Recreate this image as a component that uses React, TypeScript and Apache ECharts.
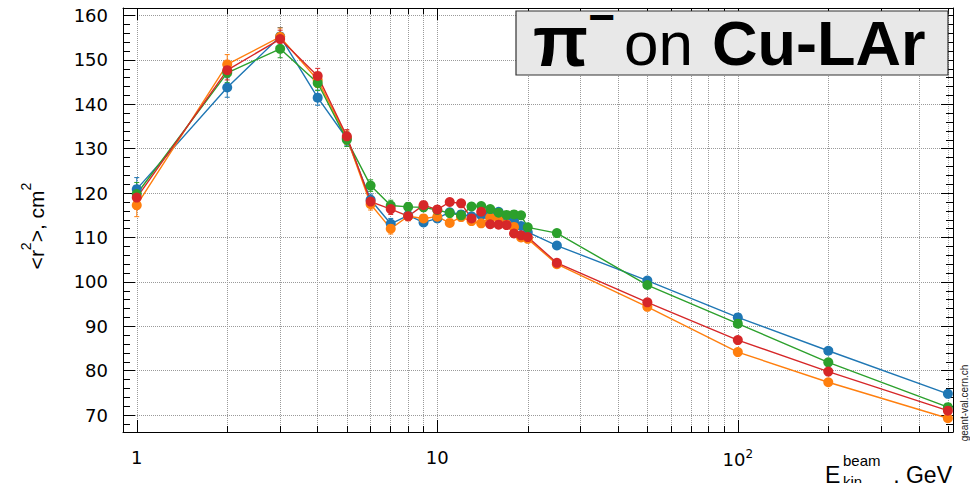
import React, { useEffect, useRef } from 'react';
import * as echarts from 'echarts';

// Beam kinetic energies, GeV
const energies = [1, 2, 3, 4, 5, 6, 7, 8, 9, 10, 11, 12, 13, 14, 15, 16, 17, 18, 19, 20, 25, 50, 100, 200, 500];

// <r^2>, cm^2 for each of the four model curves
const blueR2 = [120.9, 143.8, 155.3, 141.5, 132.3, 118.5, 113.1, 115.0, 113.4, 114.3, 115.7, 115.2, 114.8, 115.0, 115.5, 115.8, 114.6, 113.8, 112.6, 111.2, 108.2, 100.3, 92.0, 84.5, 74.8];
const orangeR2 = [117.3, 149.0, 155.2, 145.5, 132.5, 117.5, 112.0, 114.8, 114.3, 114.7, 113.3, 114.6, 113.7, 113.2, 114.5, 114.3, 113.0, 112.4, 110.0, 109.7, 104.0, 94.4, 84.2, 77.4, 69.3];
const greenR2 = [119.8, 147.1, 152.5, 144.8, 132.0, 121.7, 117.2, 116.9, 116.8, 116.2, 115.5, 115.0, 117.0, 117.1, 116.4, 115.6, 115.1, 115.2, 115.0, 112.3, 111.0, 99.3, 90.6, 81.9, 71.8];
const redR2 = [119.0, 147.7, 154.7, 146.4, 132.8, 118.1, 116.4, 114.8, 117.3, 116.3, 118.0, 117.7, 114.3, 115.8, 113.0, 112.9, 112.8, 110.9, 110.5, 110.1, 104.3, 95.4, 86.9, 79.8, 71.0];

// statistical errors (same for all curves, read roughly)
const errBar = [2.6, 2.2, 2.0, 1.7, 1.5, 1.3, 1.2, 1.0, 0.9, 0.9, 0.8, 0.8, 0.8, 0.8, 0.8, 0.7, 0.7, 0.7, 0.7, 0.7, 0.6, 0.5, 0.4, 0.3, 0.3];

// axis ticks
const xAllTicks = [1, 2, 3, 4, 5, 6, 7, 8, 9, 10, 20, 30, 40, 50, 60, 70, 80, 90, 100, 200, 300, 400, 500];
const xMajorTicks = [1, 10, 100];
const xLabelValues = [1, 10, 100];

const curves = [
  { name: 'blue', color: '#1f77b4', values: blueR2 },
  { name: 'orange', color: '#ff7f0e', values: orangeR2 },
  { name: 'green', color: '#2ca02c', values: greenR2 },
  { name: 'red', color: '#d62728', values: redR2 },
];

const FONT = 'DejaVu Sans';
const FONT2 = 'Liberation Sans';

export default function App() {
  const ref = useRef<HTMLDivElement>(null);
  useEffect(() => {
    const chart = echarts.init(ref.current!, null, { renderer: 'svg' });
    const xMin = 0.9;
    const xMax = 520;
    const yMin = 66.2;
    const yMax = 161.7;

    const grid = { left: 123, top: 8, width: 830, height: 424 };

    const series: any[] = [];
    curves.forEach((c) => {
      series.push({
        type: 'custom',
        name: c.name + '-err',
        xAxisIndex: 0,
        yAxisIndex: 0,
        data: energies.map((e, i) => [e, c.values[i], errBar[i]]),
        encode: { x: 0, y: 1 },
        renderItem: (params: any, api: any) => {
          const x = api.value(0);
          const y = api.value(1);
          const er = api.value(2);
          const t = api.coord([x, y + er]);
          const b = api.coord([x, y - er]);
          const st = { stroke: c.color, lineWidth: 1 };
          return {
            type: 'group',
            children: [
              { type: 'line', shape: { x1: t[0], y1: t[1], x2: b[0], y2: b[1] }, style: st },
              { type: 'line', shape: { x1: t[0] - 2.5, y1: t[1], x2: t[0] + 2.5, y2: t[1] }, style: st },
              { type: 'line', shape: { x1: b[0] - 2.5, y1: b[1], x2: b[0] + 2.5, y2: b[1] }, style: st },
            ],
          };
        },
        silent: true,
      });
      series.push({
        type: 'line',
        name: c.name,
        xAxisIndex: 0,
        yAxisIndex: 0,
        data: energies.map((e, i) => [e, c.values[i]]),
        symbol: 'circle',
        symbolSize: 10,
        showSymbol: true,
        lineStyle: { color: c.color, width: 1.4 },
        itemStyle: { color: c.color },
        silent: true,
      });
    });

    const option: any = {
      animation: false,
      backgroundColor: '#ffffff',
      grid: { ...grid, containLabel: false },
      xAxis: [
        {
          type: 'log',
          logBase: 10,
          min: xMin,
          max: xMax,
          position: 'bottom',
          axisLine: { show: true, onZero: false, lineStyle: { color: '#000', width: 1 } },
          axisTick: { show: true, inside: true, length: 6, customValues: xAllTicks, lineStyle: { color: '#000' } },
          splitLine: { show: true, lineStyle: { color: '#9a9a9a', type: 'dotted', width: 1 } },
          axisLabel: {
            show: true,
            customValues: xLabelValues,
            margin: 16,
            color: '#000',
            fontFamily: FONT,
            fontSize: 18,
            formatter: (v: number) => (v >= 100 ? '10{sup|2}' : String(Math.round(v))),
            rich: { sup: { fontSize: 12, fontFamily: FONT, color: '#000', verticalAlign: 'bottom', padding: [0, 0, 10, 0] } },
          },
        },
        {
          type: 'log',
          logBase: 10,
          min: xMin,
          max: xMax,
          position: 'bottom',
          axisLine: { show: false },
          axisTick: { show: true, inside: true, length: 12, customValues: xMajorTicks, lineStyle: { color: '#000' } },
          splitLine: { show: false },
          axisLabel: { show: false },
        },
        {
          type: 'log',
          logBase: 10,
          min: xMin,
          max: xMax,
          position: 'top',
          axisLine: { show: true, onZero: false, lineStyle: { color: '#000', width: 1 } },
          axisTick: { show: true, inside: true, length: 6, customValues: xAllTicks, lineStyle: { color: '#000' } },
          splitLine: { show: false },
          axisLabel: { show: false },
        },
        {
          type: 'log',
          logBase: 10,
          min: xMin,
          max: xMax,
          position: 'top',
          axisLine: { show: false },
          axisTick: { show: true, inside: true, length: 12, customValues: xMajorTicks, lineStyle: { color: '#000' } },
          splitLine: { show: false },
          axisLabel: { show: false },
        },
      ],
      yAxis: [
        {
          type: 'value',
          min: yMin,
          max: yMax,
          splitNumber: 10,
          position: 'left',
          axisLine: { show: true, onZero: false, lineStyle: { color: '#000', width: 1 } },
          axisTick: { show: true, inside: true, length: 12, lineStyle: { color: '#000' } },
          minorTick: { show: true, splitNumber: 5, length: 7, lineStyle: { color: '#000' } },
          splitLine: { show: true, lineStyle: { color: '#9a9a9a', type: 'dotted', width: 1 } },
          axisLabel: { show: true, margin: 15, color: '#000', fontFamily: FONT, fontSize: 18 },
        },
        {
          type: 'value',
          min: yMin,
          max: yMax,
          splitNumber: 10,
          position: 'right',
          axisLine: { show: true, onZero: false, lineStyle: { color: '#000', width: 1 } },
          axisTick: { show: true, inside: true, length: 12, lineStyle: { color: '#000' } },
          minorTick: { show: true, splitNumber: 5, length: 7, lineStyle: { color: '#000' } },
          splitLine: { show: false },
          axisLabel: { show: false },
        },
      ],
      graphic: [
        {
          type: 'rect',
          shape: { x: 516, y: 11, width: 432, height: 64 },
          style: { fill: '#e8e8e8', stroke: '#333', lineWidth: 1.2 },
          z: 10,
        },
        {
          type: 'text',
          x: 533,
          y: 77,
          z: 11,
          style: {
            text: '{p|π}{m|−}',
            align: 'left',
            verticalAlign: 'bottom',
            fill: '#000',
            rich: {
              p: { font: `bold 72px ${FONT2}`, fill: '#000', lineHeight: 72, verticalAlign: 'bottom' },
              m: { font: `bold 46px ${FONT2}`, fill: '#000', lineHeight: 46, verticalAlign: 'bottom', padding: [0, 0, 37, 0] },
            },
          },
        },
        {
          type: 'text',
          x: 624,
          y: 43,
          z: 11,
          style: { text: 'on', font: `62px ${FONT2}`, fill: '#000', align: 'left', verticalAlign: 'middle' },
        },
        {
          type: 'text',
          x: 712,
          y: 43,
          z: 11,
          style: { text: 'Cu-LAr', font: `bold 63px ${FONT2}`, fill: '#000', align: 'left', verticalAlign: 'middle' },
        },
        {
          type: 'text',
          x: 36,
          y: 226,
          rotation: Math.PI / 2,
          style: {
            text: '{m|<r}{s|2}{m|>, cm}{s|2}',
            align: 'center',
            verticalAlign: 'middle',
            fill: '#000',
            rich: {
              m: { fontSize: 21, fontFamily: FONT2, fill: '#000', verticalAlign: 'bottom', lineHeight: 22 },
              s: { fontSize: 14, fontFamily: FONT2, fill: '#000', verticalAlign: 'bottom', lineHeight: 14, padding: [0, 0, 14, 0] },
            },
          },
        },
        {
          type: 'text',
          x: 825,
          y: 475,
          style: { text: 'E', font: `23px ${FONT2}`, fill: '#000', align: 'left', verticalAlign: 'middle' },
        },
        {
          type: 'text',
          x: 843,
          y: 460,
          style: { text: 'beam', font: `15px ${FONT2}`, fill: '#000', align: 'left', verticalAlign: 'middle' },
        },
        {
          type: 'text',
          x: 843,
          y: 481,
          style: { text: 'kin', font: `15px ${FONT2}`, fill: '#000', align: 'left', verticalAlign: 'middle' },
        },
        {
          type: 'text',
          x: 952,
          y: 475,
          style: { text: ', GeV', font: `23px ${FONT2}`, fill: '#000', align: 'right', verticalAlign: 'middle' },
        },
        {
          type: 'text',
          x: 964,
          y: 403,
          rotation: Math.PI / 2,
          style: { text: 'geant-val.cern.ch', font: `10px ${FONT2}`, fill: '#222', align: 'center', verticalAlign: 'middle' },
        },
      ],
      series,
    };
    chart.setOption(option);
    return () => chart.dispose();
  }, []);
  return <div ref={ref} style={{ position: 'fixed', left: 0, top: 0, width: 970, height: 483 }} />;
}
